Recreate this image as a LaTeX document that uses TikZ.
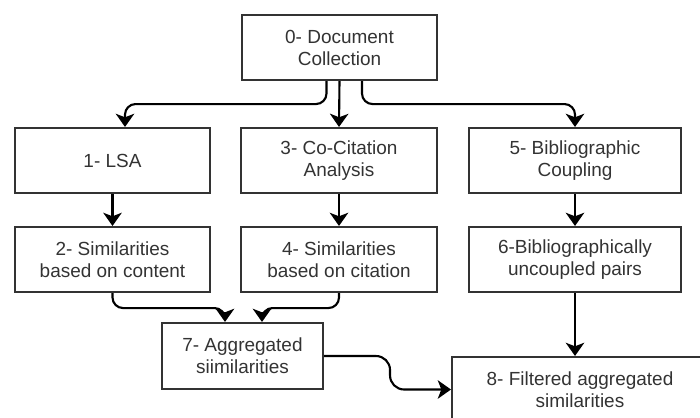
\documentclass[tikz,border=0pt]{standalone}
\usepackage{fontspec}
\setmainfont{Liberation Sans}
\usetikzlibrary{arrows.meta,positioning,calc}
\definecolor{ink}{HTML}{333333}
\begin{document}
\begin{tikzpicture}[x=0.02cm,y=-0.02cm,
  box/.style={draw=ink,line width=1.2pt,text=ink,align=center,inner sep=0pt,
    minimum height=1.3cm,font=\fontsize{10.8}{12.5}\selectfont},
  conn/.style={line width=1.2pt,rounded corners=6pt,-{Stealth[length=7.5pt,width=10.5pt,inset=2pt]}}]
\clip (0,0) rectangle (700,417);
\node[box,minimum width=3.9cm] (doc) at (339.5,47.5) {0- Document\\Collection};
\node[box,minimum width=3.9cm] (lsa) at (112.5,160.5) {1- LSA};
\node[box,minimum width=3.9cm] (simcont) at (112.5,259.5) {2- Similarities\\based on content};
\node[box,minimum width=3.92cm] (cocit) at (339,160.5) {3- Co-Citation\\Analysis};
\node[box,minimum width=3.92cm] (simcit) at (339,259.5) {4- Similarities\\based on citation};
\node[box,minimum width=4.24cm] (bib) at (575,160.5) {5- Bibliographic\\Coupling};
\node[box,minimum width=4.24cm] (uncoup) at (575,259.5) {6-Bibliographically\\uncoupled pairs};
\node[box,minimum width=3.22cm,minimum height=1.32cm] (aggr) at (242.5,356) {7- Aggregated\\siimilarities};
\node[box,minimum width=5.12cm] (filt) at (580,389.5) {8- Filtered aggregated\\similarities};
\draw[conn] ($(doc.south)+(-13,0)$) -- ++(0,23) -| ($(lsa.north)+(12.5,0)$);
\draw[conn] (doc.south) -- (cocit.north);
\draw[conn] ($(doc.south)+(22.5,0)$) -- ++(0,23) -| (bib.north);
\draw[conn] (lsa) -- (simcont);
\draw[conn] (cocit) -- (simcit);
\draw[conn] (bib) -- (uncoup);
\draw[conn] (simcont.south) -- ++(0,15) -| ($(aggr.north)+(-17.5,0)$);
\draw[conn] (simcit.south) -- ++(0,15) -| ($(aggr.north)+(19.5,0)$);
\draw[conn] (uncoup.south) -- (uncoup.south |- filt.north);
\draw[conn,rounded corners=8pt] (aggr.east) -- ++(66,0) |- (filt.west);
\end{tikzpicture}
\end{document}
